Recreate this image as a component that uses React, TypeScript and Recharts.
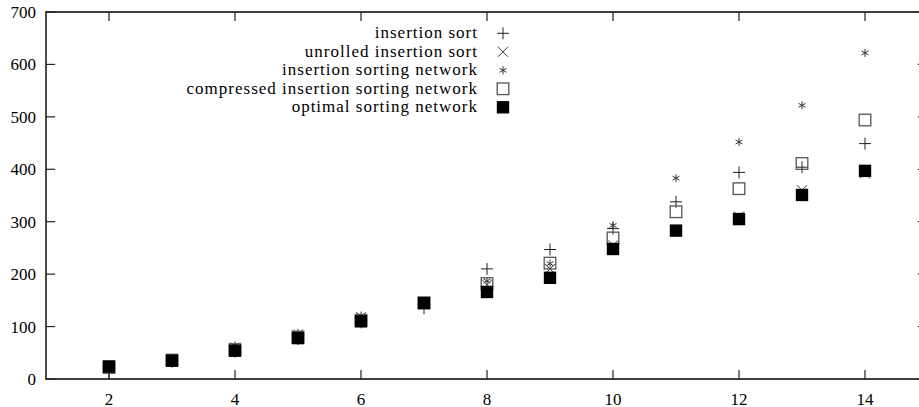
import React from "react";
import { ScatterChart, Scatter, XAxis, YAxis, ReferenceLine, ReferenceArea } from "recharts";

// sorting time per input size
const sizes = [2, 3, 4, 5, 6, 7, 8, 9, 10, 11, 12, 13, 14];
const insertionSort = [13, 33, 52, 76, 108, 135, 210, 247, 287, 338, 394, 404, 449];
const unrolledInsertionSort = [20, 38, 60, 85, 118, 145, 180, 210, 255, 281, 310, 360, 392];
const insertionSortingNetwork = [22, 40, 64, 88, 121, 148, 187, 220, 293, 383, 452, 522, 622];
const compressedInsertionSortingNetwork = [22, 36, 56, 80, 112, 145, 182, 221, 269, 319, 363, 411, 494];
const optimalSortingNetwork = [24, 35, 54, 78, 110, 145, 166, 193, 248, 283, 305, 351, 397];

const xTicks = [2, 4, 6, 8, 10, 12, 14];
const yTicks = [0, 100, 200, 300, 400, 500, 600, 700];
const xDomain = [1, 15];
const yDomain = [0, 700];

const font = "Liberation Serif";

const toPoints = (values: number[]) => sizes.map((n, i) => ({ n, t: values[i] }));

const Plus = ({ cx, cy }: any) => (
  <path d={`M${cx - 6},${cy}H${cx + 6}M${cx},${cy - 6}V${cy + 6}`} stroke="#222" strokeWidth={1} fill="none" />
);
const Cross = ({ cx, cy }: any) => (
  <path d={`M${cx - 5},${cy - 5}L${cx + 5},${cy + 5}M${cx - 5},${cy + 5}L${cx + 5},${cy - 5}`} stroke="#333" strokeWidth={1} fill="none" />
);
const Star = ({ cx, cy }: any) => (
  <path
    d={`M${cx},${cy - 4}V${cy + 4}M${cx - 3.5},${cy - 2}L${cx + 3.5},${cy + 2}M${cx - 3.5},${cy + 2}L${cx + 3.5},${cy - 2}`}
    stroke="#333"
    strokeWidth={1}
    fill="none"
  />
);
const OpenSquare = ({ cx, cy }: any) => (
  <rect x={cx - 5.8} y={cy - 5.8} width={11.6} height={11.6} fill="none" stroke="#555" strokeWidth={1.3} />
);
const FilledSquare = ({ cx, cy }: any) => (
  <rect x={cx - 6.2} y={cy - 6.2} width={12.4} height={12.4} fill="#000" />
);

const series = [
  { name: "insertion sort", values: insertionSort, Mark: Plus },
  { name: "unrolled insertion sort", values: unrolledInsertionSort, Mark: Cross },
  { name: "insertion sorting network", values: insertionSortingNetwork, Mark: Star },
  { name: "compressed insertion sorting network", values: compressedInsertionSortingNetwork, Mark: OpenSquare },
  { name: "optimal sorting network", values: optimalSortingNetwork, Mark: FilledSquare },
];

const BottomLabel = (p: any) => (
  <text x={p.x} y={p.y + 25.5} textAnchor="middle" style={{ fontFamily: font, fontSize: 17 }} fill="#000">
    {p.payload.value}
  </text>
);
const LeftLabel = (p: any) => (
  <text x={p.x - 10} y={p.y + 6} textAnchor="end" style={{ fontFamily: font, fontSize: 17 }} fill="#000">
    {p.payload.value}
  </text>
);

// inward tick length, in data units (about 9px)
const xTickLen = 0.145;
const yTickLen = 17;

const Legend = () => (
  <svg width={919} height={130} style={{ position: "absolute", left: 0, top: 0, pointerEvents: "none" }}>
    {series.map((s, i) => {
      const y = 33.3 + i * 18.5;
      const Mark = s.Mark;
      return (
        <g key={s.name}>
          <text x={478} y={y + 5} textAnchor="end" style={{ fontFamily: font, fontSize: 17, letterSpacing: 1 }} fill="#000">
            {s.name}
          </text>
          <Mark cx={503} cy={y} />
        </g>
      );
    })}
  </svg>
);

export default function App() {
  return (
    <div style={{ position: "absolute", left: 0, top: 0, width: 919, height: 407, overflow: "hidden", background: "#fff" }}>
      <ScatterChart width={940} height={407} margin={{ top: 12, right: 12, bottom: 0, left: 0 }}>
        <XAxis
          dataKey="n"
          type="number"
          domain={xDomain}
          ticks={xTicks}
          interval={0}
          height={28}
          tickSize={0}
          tickMargin={0}
          tickLine={false}
          tick={BottomLabel}
          axisLine={false}
        />
        <YAxis
          dataKey="t"
          type="number"
          domain={yDomain}
          ticks={yTicks}
          interval={0}
          width={46}
          tickSize={0}
          tickMargin={0}
          tickLine={false}
          tick={LeftLabel}
          axisLine={false}
        />
        <ReferenceArea
          x1={xDomain[0]}
          x2={xDomain[1]}
          y1={yDomain[0]}
          y2={yDomain[1]}
          ifOverflow="visible"
          fill="none"
          fillOpacity={0}
          stroke="#000"
          strokeWidth={1.4}
          strokeOpacity={1}
        />
        {xTicks.map((v) => (
          <ReferenceLine key={`xb${v}`} segment={[{ x: v, y: yDomain[0] }, { x: v, y: yDomain[0] + yTickLen }]} ifOverflow="visible" stroke="#222" strokeWidth={1.2} />
        ))}
        {xTicks.map((v) => (
          <ReferenceLine key={`xt${v}`} segment={[{ x: v, y: yDomain[1] }, { x: v, y: yDomain[1] - yTickLen }]} ifOverflow="visible" stroke="#222" strokeWidth={1.2} />
        ))}
        {yTicks.map((v) => (
          <ReferenceLine key={`yl${v}`} segment={[{ x: xDomain[0], y: v }, { x: xDomain[0] + xTickLen, y: v }]} ifOverflow="visible" stroke="#222" strokeWidth={1.2} />
        ))}
        {yTicks.map((v) => (
          <ReferenceLine key={`yr${v}`} segment={[{ x: xDomain[1], y: v }, { x: xDomain[1] - xTickLen * 1.1, y: v }]} ifOverflow="visible" stroke="#222" strokeWidth={1.2} />
        ))}
        {series.map((s) => (
          <Scatter
            key={s.name}
            name={s.name}
            data={toPoints(s.values)}
            isAnimationActive={false}
            shape={(props: any) => <s.Mark cx={props.cx} cy={props.cy} />}
          />
        ))}
      </ScatterChart>
      <Legend />
    </div>
  );
}
